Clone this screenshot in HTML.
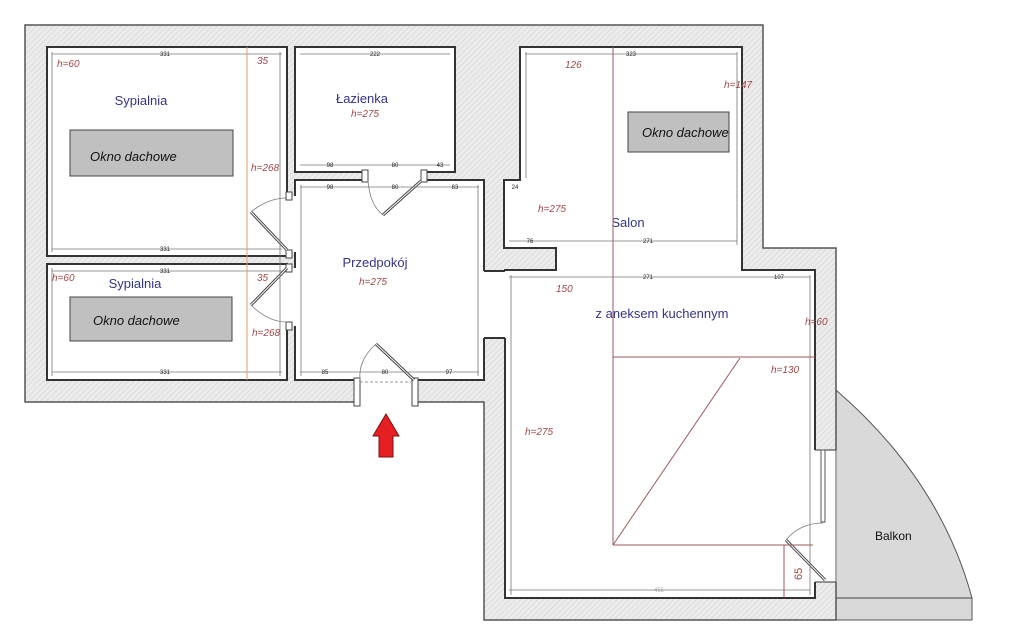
<!DOCTYPE html>
<html><head><meta charset="utf-8"><style>
html,body{margin:0;padding:0;background:#fff;width:1024px;height:632px;overflow:hidden}
svg{display:block}
.r{fill:#fff;stroke:#333;stroke-width:2}
.d{stroke:#777;stroke-width:0.8;fill:none}
.n{font-family:"Liberation Sans",sans-serif;font-size:6px;fill:#222}
.lb{font-family:"Liberation Sans",sans-serif;font-size:13px;fill:#33358a}
.h{font-family:"Liberation Sans",sans-serif;font-size:10px;font-style:italic;fill:#a04848}
.ok{font-family:"Liberation Sans",sans-serif;font-size:13px;font-style:italic;fill:#111}
.ln{stroke:#9a5a5a;stroke-width:1;fill:none}
</style></head><body>
<svg width="1024" height="632" viewBox="0 0 1024 632" xmlns="http://www.w3.org/2000/svg">
<defs>
<pattern id="hat" width="4" height="4" patternUnits="userSpaceOnUse" patternTransform="rotate(45)">
<rect width="4" height="4" fill="#ececec"/><line x1="0" y1="0" x2="0" y2="4" stroke="#cfcfcf" stroke-width="1.2"/>
</pattern>
</defs>
<path d="M836 390 Q940 480 972 598 L972 620 L836 620 Z" fill="#d9d9d9" stroke="#555" stroke-width="1"/>
<line x1="836" y1="598" x2="972" y2="598" stroke="#444" stroke-width="1"/>
<path d="M25 25 L763 25 L763 248 L836 248 L836 620 L484 620 L484 402 L25 402 Z" fill="url(#hat)" stroke="#555" stroke-width="1.5"/>
<rect class="r" x="47" y="47" width="240" height="209"/>
<rect class="r" x="47" y="264" width="240" height="116"/>
<rect class="r" x="295" y="47" width="160" height="125"/>
<rect class="r" x="295" y="180" width="189" height="200"/>
<path class="r" d="M520 47 L742 47 L742 270 L815 270 L815 598 L505 598 L505 270 L556 270 L556 248 L504 248 L504 180 L520 180 Z"/>
<rect x="505" y="249" width="50" height="20" fill="url(#hat)"/>
<line x1="504" y1="248" x2="556" y2="248" stroke="#333" stroke-width="2"/>
<line x1="556" y1="248" x2="556" y2="270" stroke="#333" stroke-width="2"/>
<line x1="505" y1="270" x2="556" y2="270" stroke="#333" stroke-width="2"/>
<rect x="483" y="271" width="23" height="67" fill="#fff"/>
<line x1="484" y1="271" x2="505" y2="271" stroke="#333" stroke-width="2"/>
<line x1="484" y1="338" x2="505" y2="338" stroke="#333" stroke-width="2"/>
<rect x="357" y="379" width="58" height="24" fill="#fff"/>
<rect x="354" y="378" width="6" height="28" fill="#fff" stroke="#444"/>
<rect x="412" y="378" width="6" height="28" fill="#fff" stroke="#444"/>
<line x1="360" y1="382" x2="412" y2="382" stroke="#999" stroke-dasharray="3,2"/>
<line x1="376" y1="344" x2="414" y2="380" stroke="#444" stroke-width="3"/><line x1="376" y1="344" x2="414" y2="380" stroke="#fff" stroke-width="1"/>
<path d="M376 344 Q358 360 360 380" class="d"/>
<rect x="364" y="171" width="60" height="10" fill="#fff"/>
<rect x="362" y="170" width="6" height="12" fill="#fff" stroke="#444"/><rect x="421" y="170" width="6" height="12" fill="#fff" stroke="#444"/>
<line x1="383" y1="215" x2="421" y2="181" stroke="#444" stroke-width="3"/><line x1="383" y1="215" x2="421" y2="181" stroke="#fff" stroke-width="1"/>
<path d="M368 181 Q370 205 383 215" class="d"/>
<rect x="286" y="196" width="10" height="56" fill="#fff"/>
<rect x="286" y="192" width="6" height="8" fill="#fff" stroke="#444"/><rect x="286" y="250" width="6" height="8" fill="#fff" stroke="#444"/>
<line x1="251" y1="212" x2="287" y2="250" stroke="#444" stroke-width="3"/><line x1="251" y1="212" x2="287" y2="250" stroke="#fff" stroke-width="1"/>
<path d="M251 212 Q268 198 287 198" class="d"/>
<rect x="286" y="268" width="10" height="58" fill="#fff"/>
<rect x="286" y="264" width="6" height="8" fill="#fff" stroke="#444"/><rect x="286" y="322" width="6" height="8" fill="#fff" stroke="#444"/>
<line x1="251" y1="305" x2="287" y2="268" stroke="#444" stroke-width="3"/><line x1="251" y1="305" x2="287" y2="268" stroke="#fff" stroke-width="1"/>
<path d="M251 305 Q268 322 287 322" class="d"/>
<rect x="814" y="450" width="23" height="132" fill="#fff"/>
<line x1="815" y1="450" x2="836" y2="450" stroke="#333"/><line x1="815" y1="582" x2="836" y2="582" stroke="#333"/>
<line x1="836" y1="450" x2="836" y2="598" stroke="#555"/>
<rect x="821" y="450" width="4" height="72" fill="#fff" stroke="#555"/>
<line x1="786" y1="540" x2="825" y2="580" stroke="#444" stroke-width="3"/><line x1="786" y1="540" x2="825" y2="580" stroke="#fff" stroke-width="1"/>
<path d="M786 540 Q800 523 823 523" class="d"/>
<g class="d">
<line x1="52" y1="54" x2="282" y2="54"/><line x1="52" y1="249" x2="282" y2="249"/><line x1="52" y1="271" x2="282" y2="271"/><line x1="52" y1="372" x2="282" y2="372"/>
<line x1="300" y1="54" x2="450" y2="54"/><line x1="300" y1="165" x2="450" y2="165"/><line x1="300" y1="187" x2="479" y2="187"/><line x1="300" y1="372" x2="479" y2="372"/>
<line x1="525" y1="54" x2="737" y2="54"/><line x1="509" y1="241" x2="737" y2="241"/><line x1="509" y1="277" x2="810" y2="277"/><line x1="509" y1="590" x2="810" y2="590"/>
<line x1="280" y1="52" x2="280" y2="376"/><line x1="301" y1="185" x2="301" y2="376"/><line x1="478" y1="185" x2="478" y2="376"/>
<line x1="52" y1="52" x2="52" y2="252"/><line x1="52" y1="268" x2="52" y2="376"/>
<line x1="511" y1="275" x2="511" y2="595"/><line x1="810" y1="275" x2="810" y2="595"/><line x1="737" y1="52" x2="737" y2="245"/><line x1="526" y1="52" x2="526" y2="178"/>
</g>
<g class="n" text-anchor="middle">
<text x="165" y="56">331</text><text x="165" y="251">331</text><text x="165" y="273">331</text><text x="165" y="374">331</text>
<text x="375" y="56">222</text><text x="330" y="167">98</text><text x="395" y="167">80</text><text x="440" y="167">43</text>
<text x="330" y="189">98</text><text x="395" y="189">80</text><text x="455" y="189">83</text>
<text x="325" y="374">85</text><text x="385" y="374">80</text><text x="449" y="374">97</text>
<text x="631" y="56">323</text><text x="530" y="243">76</text><text x="648" y="243">271</text><text x="648" y="279">271</text><text x="779" y="279">107</text>
<text x="659" y="592" fill="#aaa">455</text><text x="515" y="189">24</text>
</g>
<text class="lb" x="141" y="105" text-anchor="middle">Sypialnia</text>
<text class="lb" x="135" y="288" text-anchor="middle">Sypialnia</text>
<text class="lb" x="362" y="103" text-anchor="middle">Łazienka</text>
<text class="lb" x="375" y="267" text-anchor="middle">Przedpokój</text>
<text class="lb" x="628" y="227" text-anchor="middle">Salon</text>
<text class="lb" x="662" y="318" text-anchor="middle">z aneksem kuchennym</text>
<text x="875" y="540" font-family="Liberation Sans,sans-serif" font-size="12" fill="#111">Balkon</text>
<g class="h">
<text x="57" y="67">h=60</text><text x="52" y="281">h=60</text><text x="257" y="64">35</text><text x="257" y="281">35</text>
<text x="251" y="171">h=268</text><text x="252" y="336">h=268</text><text x="351" y="117">h=275</text><text x="359" y="285">h=275</text>
<text x="565" y="68">126</text><text x="724" y="88">h=147</text><text x="538" y="212">h=275</text><text x="556" y="292">150</text>
<text x="805" y="325">h=60</text><text x="771" y="373">h=130</text><text x="525" y="435">h=275</text>
</g>
<rect x="70" y="130" width="163" height="46" fill="#c0c0c0" stroke="#444"/>
<text class="ok" x="90" y="161">Okno dachowe</text>
<rect x="70" y="297" width="162" height="44" fill="#c0c0c0" stroke="#444"/>
<text class="ok" x="93" y="325">Okno dachowe</text>
<rect x="628" y="112" width="101" height="40" fill="#c0c0c0" stroke="#444"/>
<text class="ok" x="642" y="137">Okno dachowe</text>
<line x1="247" y1="47" x2="247" y2="380" stroke="#e0a060" stroke-width="1"/>
<line class="ln" x1="613" y1="47" x2="613" y2="545"/>
<line class="ln" x1="613" y1="357" x2="815" y2="357"/>
<line class="ln" x1="613" y1="545" x2="813" y2="545"/>
<line class="ln" x1="613" y1="545" x2="740" y2="358"/>
<line class="ln" x1="784" y1="545" x2="784" y2="598"/>
<text x="802" y="580" font-family="Liberation Sans,sans-serif" font-size="11" fill="#a04848" transform="rotate(-90 802 580)">65</text>
<path d="M386 414 L399 436 L393 436 L393 457 L379 457 L379 436 L373 436 Z" fill="#e51f23" stroke="#7a1010" stroke-width="1"/>
</svg>
</body></html>
